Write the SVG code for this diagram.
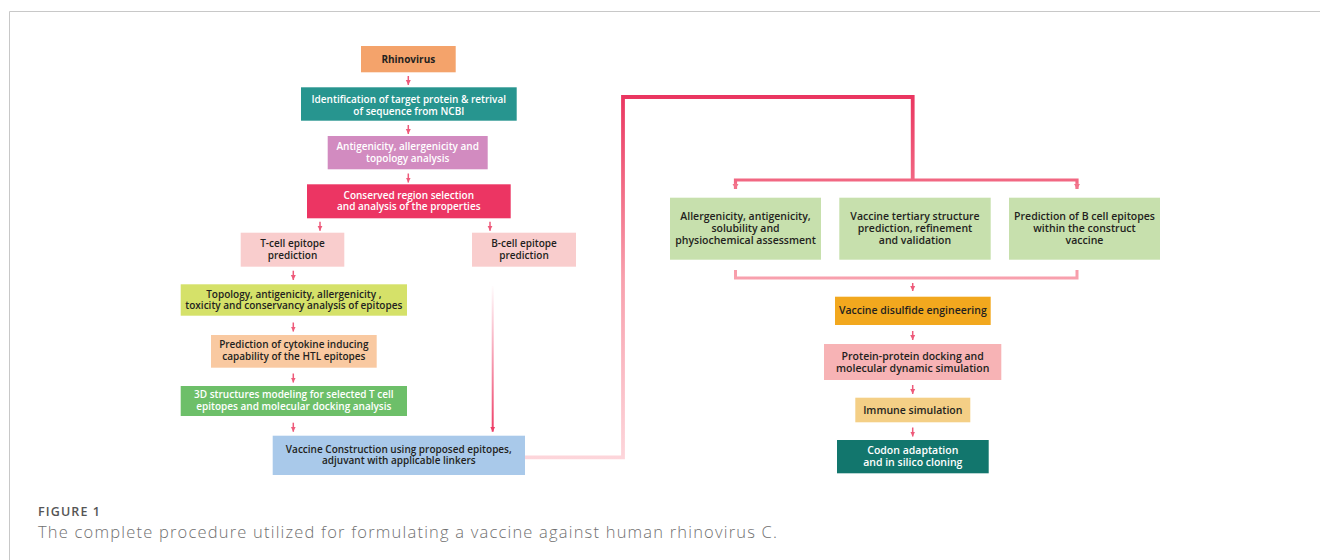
<svg xmlns="http://www.w3.org/2000/svg" width="1320" height="560" viewBox="0 0 1320 560">
<style>
  .t { font-family: "Open Sans", "Noto Sans", "Liberation Sans", sans-serif; font-weight: 600; font-size: 10px; text-anchor: middle; fill: #231f20; }
  .r { font-size: 10.5px; }
  .w { fill: #ffffff; }
  .b { font-weight: 700; }
  .sa { stroke: #ee5a7a; stroke-width: 1.5; fill: none; marker-end: url(#ah); }
  .cap1 { font-family: "Open Sans", "Noto Sans", "Liberation Sans", sans-serif; font-weight: 600; font-size: 12.5px; fill: #555555; }
  .cap2 { font-family: "Open Sans", "Noto Sans", "Liberation Sans", sans-serif; font-weight: 300; font-size: 16.5px; fill: #707070; }
</style>
<defs>
  <marker id="ah" markerUnits="userSpaceOnUse" markerWidth="6" markerHeight="6" refX="5" refY="3" orient="auto">
    <path d="M0,0.5 L5,3 L0,5.5 z" fill="#ee5a7a"/>
  </marker>
  <marker id="ahB" markerUnits="userSpaceOnUse" markerWidth="6" markerHeight="6" refX="5" refY="3" orient="auto">
    <path d="M0,0.5 L5,3 L0,5.5 z" fill="#ee3d66"/>
  </marker>
  <marker id="ahP" markerUnits="userSpaceOnUse" markerWidth="7" markerHeight="7" refX="5" refY="3.5" orient="auto">
    <path d="M0,0.5 L5,3.5 L0,6.5 z" fill="#f2758c"/>
  </marker>
  <linearGradient id="gMain" gradientUnits="userSpaceOnUse" x1="0" y1="95" x2="0" y2="460">
    <stop offset="0" stop-color="#ea3560"/>
    <stop offset="0.25" stop-color="#f26b85"/>
    <stop offset="0.5" stop-color="#f8a0ad"/>
    <stop offset="1" stop-color="#fdd6db"/>
  </linearGradient>
  <linearGradient id="gB" gradientUnits="userSpaceOnUse" x1="0" y1="284" x2="0" y2="432">
    <stop offset="0" stop-color="#ffffff"/>
    <stop offset="1" stop-color="#ee3d66"/>
  </linearGradient>
</defs>

<rect x="0" y="0" width="1320" height="560" fill="#ffffff"/>
<path d="M9.5,560 V11.5 H1320" fill="none" stroke="#c8c8c8" stroke-width="1"/>

<g id="connectors">
  <line class="sa" x1="408.3" y1="76" x2="408.3" y2="85"/>
  <line class="sa" x1="408.3" y1="125" x2="408.3" y2="134"/>
  <line class="sa" x1="408.3" y1="173.5" x2="408.3" y2="182.5"/>
  <line class="sa" x1="320" y1="221.7" x2="320" y2="230.7"/>
  <line class="sa" x1="490" y1="221.7" x2="490" y2="230.7"/>
  <line class="sa" x1="293.3" y1="270.7" x2="293.3" y2="280"/>
  <line class="sa" x1="293.3" y1="322.5" x2="293.3" y2="331.5"/>
  <line class="sa" x1="293.3" y1="373.5" x2="293.3" y2="382.5"/>
  <line class="sa" x1="293.3" y1="422.7" x2="293.3" y2="431.7"/>
  <line x1="492.7" y1="286" x2="492.7" y2="431.7" stroke="url(#gB)" stroke-width="2" marker-end="url(#ahB)"/>
  <path d="M525,457.3 H623 V97 H912.7 V180" fill="none" stroke="url(#gMain)" stroke-width="3.8" stroke-linejoin="miter"/>
  <path d="M735.5,189 V180 H1077 V189" fill="none" stroke="url(#gMain)" stroke-width="3.2"/>
  <line x1="735.5" y1="183" x2="735.5" y2="189" stroke="#f2758c" stroke-width="2" marker-end="url(#ahP)"/>
  <line x1="1077" y1="183" x2="1077" y2="189" stroke="#f2758c" stroke-width="2" marker-end="url(#ahP)"/>
  <path d="M735.5,270 V278 H1077 V270" fill="none" stroke="url(#gMain)" stroke-width="3"/>
  <line class="sa" x1="912.7" y1="283" x2="912.7" y2="291"/>
  <line class="sa" x1="912.7" y1="331" x2="912.7" y2="340"/>
  <line class="sa" x1="912.7" y1="385" x2="912.7" y2="394"/>
  <line class="sa" x1="912.7" y1="427.5" x2="912.7" y2="436.5"/>
</g>

<g id="n-rhinovirus">
  <rect x="361" y="46" width="94.7" height="26.3" fill="#f4a36b"/>
  <text class="t b" x="408.3" y="62.6">Rhinovirus</text>
</g>
<g id="n-identification">
  <rect x="301" y="87.3" width="215.7" height="33.4" fill="#27958f"/>
  <text class="t w" x="408.8" y="102.8">Identification of target protein &amp; retrival</text>
  <text class="t w" x="408.8" y="114.5">of sequence from NCBI</text>
</g>
<g id="n-antigenicity">
  <rect x="327.7" y="136" width="160" height="33.3" fill="#d28bc0"/>
  <text class="t w" x="407.7" y="150.2">Antigenicity, allergenicity and</text>
  <text class="t w" x="407.7" y="161.8">topology analysis</text>
</g>
<g id="n-conserved">
  <rect x="307" y="184.3" width="203.7" height="34" fill="#ec3563"/>
  <text class="t w" x="408.8" y="198.5">Conserved region selection</text>
  <text class="t w" x="408.8" y="210.2">and analysis of the properties</text>
</g>
<g id="n-tcell">
  <rect x="240.7" y="232.7" width="103.6" height="34" fill="#f9cdcd"/>
  <text class="t" x="292.5" y="246.8">T-cell epitope</text>
  <text class="t" x="292.5" y="258.5">prediction</text>
</g>
<g id="n-bcell">
  <rect x="472" y="232.7" width="104" height="34" fill="#f9cdcd"/>
  <text class="t" x="524" y="246.8">B-cell epitope</text>
  <text class="t" x="524" y="258.5">prediction</text>
</g>
<g id="n-topology">
  <rect x="180.7" y="284.3" width="226.3" height="31.4" fill="#d5e169"/>
  <text class="t" x="293.8" y="297.6">Topology, antigenicity, allergenicity ,</text>
  <text class="t" x="293.8" y="309.3">toxicity and conservancy analysis of epitopes</text>
</g>
<g id="n-cytokine">
  <rect x="211" y="335" width="165.7" height="32.7" fill="#f9c9a1"/>
  <text class="t" x="293.8" y="347.8">Prediction of cytokine inducing</text>
  <text class="t" x="293.8" y="359.5">capability of the HTL epitopes</text>
</g>
<g id="n-3d">
  <rect x="180.7" y="386" width="226.3" height="30" fill="#6dbf69"/>
  <text class="t w" x="293.8" y="398.2">3D structures modeling for selected T cell</text>
  <text class="t w" x="293.8" y="409.9">epitopes and molecular docking analysis</text>
</g>
<g id="n-vaccine">
  <rect x="272.7" y="435.7" width="252.3" height="39.3" fill="#a9c9ea"/>
  <text class="t" x="398.8" y="452.5">Vaccine Construction using proposed epitopes,</text>
  <text class="t" x="398.8" y="464.2">adjuvant with applicable linkers</text>
</g>

<g id="n-allergenicity">
  <rect x="670" y="197.7" width="151" height="62" fill="#c7e0ad"/>
  <text class="t r" x="745.5" y="219.7">Allergenicity, antigenicity,</text>
  <text class="t r" x="745.5" y="232">solubility and</text>
  <text class="t r" x="745.5" y="244">physiochemical assessment</text>
</g>
<g id="n-tertiary">
  <rect x="839.3" y="197.7" width="151.4" height="62" fill="#c7e0ad"/>
  <text class="t r" x="915" y="219.7">Vaccine tertiary structure</text>
  <text class="t r" x="915" y="232">prediction, refinement</text>
  <text class="t r" x="915" y="244">and validation</text>
</g>
<g id="n-bcell-construct">
  <rect x="1009" y="197.7" width="151" height="62" fill="#c7e0ad"/>
  <text class="t r" x="1084.5" y="219.7">Prediction of B cell epitopes</text>
  <text class="t r" x="1084.5" y="232">within the construct</text>
  <text class="t r" x="1084.5" y="244">vaccine</text>
</g>
<g id="n-disulfide">
  <rect x="835" y="296.7" width="155.7" height="28.3" fill="#f2a81e"/>
  <text class="t r" x="912.8" y="314.4">Vaccine disulfide engineering</text>
</g>
<g id="n-docking">
  <rect x="824" y="344" width="177.3" height="36" fill="#f7b3b5"/>
  <text class="t r" x="912.7" y="359.7">Protein-protein docking and</text>
  <text class="t r" x="912.7" y="372">molecular dynamic simulation</text>
</g>
<g id="n-immune">
  <rect x="855.3" y="397.7" width="115" height="24.6" fill="#f4cf86"/>
  <text class="t r" x="912.8" y="413.7">Immune simulation</text>
</g>
<g id="n-codon">
  <rect x="837" y="440" width="151.7" height="33.3" fill="#12766d"/>
  <text class="t r w" x="912.8" y="453.7">Codon adaptation</text>
  <text class="t r w" x="912.8" y="466">and in silico cloning</text>
</g>

<text class="cap1" x="38" y="516" textLength="62">FIGURE 1</text>
<text class="cap2" x="38" y="537.5" textLength="739">The complete procedure utilized for formulating a vaccine against human rhinovirus C.</text>
</svg>
